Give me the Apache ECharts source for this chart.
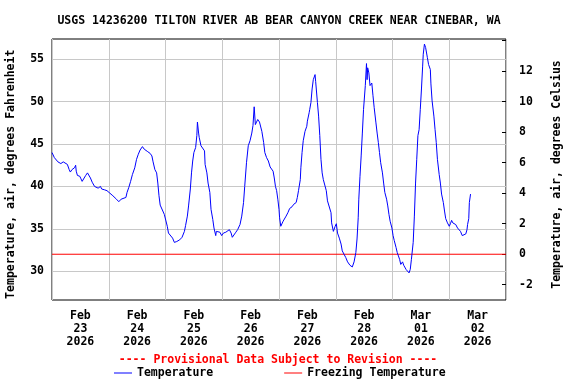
<!DOCTYPE html>
<html>
<head>
<meta charset="utf-8">
<script src="https://cdn.jsdelivr.net/npm/echarts@6/dist/echarts.min.js"></script>
<style>
html,body{margin:0;padding:0;background:#fff;}
#chart{width:576px;height:384px;}
</style>
</head>
<body>
<div id="chart"></div>
<script>
// Hours since Feb 23 2026 00:00
const hours = [0,1,2.5,3.75,4.75,5.5,6.5,7.25,7.75,8.5,9.5,10,10.25,10.75,11.75,12.25,12.75,13.5,14.25,15,15.5,16.25,17,18,18.75,19.5,20.5,21,22.25,23.25,24.5,25.75,27.25,28.25,29.25,30,31.25,31.75,32.5,33.25,34,35,35.75,36.5,37.25,38.25,39,39.5,40.5,41.5,42.25,42.75,43.5,44.25,44.75,45.25,45.75,46.5,47.5,48,48.75,49.25,50,51,51.75,52.75,53.5,54,55,56,56.5,57.25,57.75,58.5,59,59.5,60,60.75,61.25,61.5,62,62.25,63,63.75,64.5,64.75,65.5,66,66.75,67.25,68,68.5,69.25,69.5,70.25,71,71.75,72.5,73.5,74.25,75,75.75,76.25,77,77.75,78.5,79.5,80.25,81,81.5,82.25,83,83.75,84.5,85,85.5,86,86.5,87,87.75,88.25,88.75,89.5,90,90.75,91.5,92.25,93,93.5,94,94.5,95,95.5,96,96.25,96.75,97.25,97.75,98.25,99,99.75,100.5,101.5,102.25,103.25,103.75,104.25,105,105.25,105.75,106.25,107,107.75,108,108.75,109,109.5,110,110.5,111.25,111.5,112.25,112.75,113.25,113.75,114.25,114.75,115.25,116,116.5,117,118,118.25,119,119.75,120.25,120.75,121.5,122.25,122.75,123.5,124.25,125,126,127,127.75,128.5,129,129.5,129.75,130.25,130.75,131.25,131.75,132.5,133,133.25,133.5,134,134.5,135.25,135.75,136.25,137,137.5,138,138.5,139,139.75,140.25,140.75,141.5,142,142.5,143,143.75,144.25,144.75,145.5,146,146.5,147,147.5,148.25,148.75,149.25,149.75,150.5,151,151.5,152,152.75,153.25,153.75,154.25,154.75,155.25,155.75,156.25,156.75,157,157.5,158,158.25,158.75,159.25,160,160.25,160.75,161.5,162,162.5,163,163.75,164.25,164.75,165.5,166,166.5,167.25,168,168.5,169,169.5,170,170.75,171.5,172,172.75,173.5,174,174.25,175,175.5,175.75,176.25,176.5,177];
const tempF = [44.0,43.4,42.9,42.7,42.9,43.0,42.6,42.0,41.7,42.0,42.2,42.5,41.8,41.3,41.2,40.9,40.6,40.8,41.3,41.6,41.4,41.0,40.5,40.0,39.8,39.8,40.0,39.7,39.6,39.5,39.2,38.9,38.5,38.2,38.5,38.7,38.7,39.3,39.9,40.6,41.4,42.2,43.2,43.8,44.3,44.7,44.4,44.5,44.1,43.9,43.6,42.9,42.0,41.6,40.4,38.9,37.8,37.7,36.7,36.5,35.3,34.5,34.7,33.9,33.4,33.5,33.4,33.7,34.0,34.7,35.4,36.5,37.7,39.7,41.6,43.0,44.0,44.6,46.0,47.6,46.3,45.8,44.8,44.9,44.2,42.6,41.6,40.4,39.3,37.3,36.1,35.1,34.2,34.7,34.5,34.6,34.2,34.5,34.6,34.7,34.9,34.5,34.0,34.2,34.6,34.9,35.5,36.5,38.1,40.0,42.8,44.8,45.4,46.3,47.2,49.4,47.3,47.6,47.9,47.6,47.6,46.5,45.2,44.0,43.4,43.0,42.3,42.1,41.8,41.0,40.0,39.5,38.5,37.3,36.3,35.3,35.5,35.9,35.7,36.5,36.9,37.4,37.6,37.9,38.1,38.7,39.5,40.8,42.2,44.0,45.4,46.5,47.1,47.7,48.7,49.1,49.9,51.5,52.6,53.2,52.4,49.9,48.3,46.0,43.2,41.6,40.8,40.6,39.5,38.3,38.1,36.9,35.7,34.7,35.3,35.6,34.5,33.9,33.2,32.4,32.2,31.6,31.1,30.7,30.5,31.1,32.2,33.8,36.3,38.5,41.2,43.6,46.3,49.1,51.9,54.5,52.6,54.0,53.4,51.9,52.2,50.7,49.3,47.5,46.3,45.2,44.0,42.8,41.6,40.4,39.3,38.5,37.7,36.7,35.9,35.1,34.2,33.6,32.8,32.2,31.8,31.4,30.8,31.1,30.7,30.6,30.2,30.0,29.8,30.2,31.4,33.4,36.5,40.4,43.2,46.0,46.7,49.1,51.5,54.2,55.6,56.8,56.4,56.2,55.2,54.4,53.8,52.1,50.1,48.3,46.7,45.2,43.2,41.4,40.4,39.1,38.1,37.1,36.2,35.7,35.3,35.6,36.0,35.7,35.6,35.5,35.1,35.0,34.7,34.2,34.4,34.15,34.4,34.9,35.5,36.2,38.1,39.1];
const dayMonths = ['Feb','Feb','Feb','Feb','Feb','Feb','Mar','Mar'];
const dayNums = ['23','24','25','26','27','28','01','02'];
const dayYears = ['2026','2026','2026','2026','2026','2026','2026','2026'];
const dayLabelHours = [12, 36, 60, 84, 108, 132, 156, 180];   // noon of each day
const freezingF = 32;
const rangeHours = [0, 192];
const rangeF = [26.6, 57.4];      // full plot extent, deg F
const tickRangeF = [30, 55];      // labelled F ticks
const tickRangeC = [-2, 12];      // labelled C ticks

const FONT = 'DejaVu Sans Mono';
const fs = 11.5;
const txt = {fontFamily: FONT, fontSize: fs, fontWeight: 'bold', color: '#000'};

// plot geometry
const G = {left: 52, right: 70, top: 39, bottom: 84};
const H = 384 - G.top - G.bottom;
function yOfF(f) { return G.top + (rangeF[1] - f) * H / (rangeF[1] - rangeF[0]); }
function fToC(f) { return (f - 32) / 1.8; }

const chart = echarts.init(document.getElementById('chart'), null, {renderer: 'canvas'});
const option = {
  animation: false,
  backgroundColor: '#fff',
  title: [
    {text: 'USGS 14236200 TILTON RIVER AB BEAR CANYON CREEK NEAR CINEBAR, WA', left: 279, top: 15, textAlign: 'center', padding: 0,
     textStyle: {fontFamily: FONT, fontSize: fs, fontWeight: 'bold', color: '#000'}},
    {text: '---- Provisional Data Subject to Revision ----', left: 278, top: 354, textAlign: 'center', padding: 0,
     textStyle: {fontFamily: FONT, fontSize: fs, fontWeight: 'bold', color: '#ff0000'}}
  ],
  legend: {
    data: ['Temperature', 'Freezing Temperature'],
    left: 114, top: 367, padding: 0,
    icon: 'rect', itemWidth: 18, itemHeight: 1, itemGap: 71,
    textStyle: Object.assign({}, txt, {padding: [0,0,0,0]}),
    selectedMode: false
  },
  grid: [
    {left: G.left, right: G.right, top: G.top, bottom: G.bottom, show: true, borderColor: '#000', borderWidth: 1,
     backgroundColor: 'transparent', outerBoundsMode: 'none'},
    {left: G.left, right: G.right, top: yOfF(tickRangeF[1]), bottom: 384 - yOfF(tickRangeF[0]), show: false, outerBoundsMode: 'none'}
  ],
  xAxis: [
    {gridIndex: 0, type: 'value', min: rangeHours[0], max: rangeHours[1], interval: 24,
     axisLine: {show: false}, axisTick: {show: false},
     splitLine: {show: true, lineStyle: {color: '#c8c8c8', width: 1}},
     axisLabel: Object.assign({}, txt, {margin: 10, lineHeight: 13, hideOverlap: false,
       customValues: dayLabelHours,
       formatter: function (v) {
         const i = dayLabelHours.indexOf(v);
         if (i < 0) return '';
         return dayMonths[i] + '\n' + dayNums[i] + '\n' + dayYears[i];
       }})},
    {gridIndex: 1, type: 'value', min: 0, max: 1, show: false}
  ],
  yAxis: [
    {gridIndex: 0, type: 'value', min: rangeF[0], max: rangeF[1], show: false},
    {gridIndex: 1, type: 'value', min: tickRangeF[0], max: tickRangeF[1], interval: 5, position: 'left',
     name: 'Temperature, air, degrees Fahrenheit', nameLocation: 'middle', nameGap: 35,
     nameTextStyle: Object.assign({}, txt, {padding: [0, 18, 0, 0]}),
     axisLine: {show: false}, axisTick: {show: false},
     axisLabel: Object.assign({}, txt, {margin: 8}),
     splitLine: {show: true, lineStyle: {color: '#c8c8c8', width: 1}}},
    {gridIndex: 0, type: 'value', min: fToC(rangeF[0]), max: fToC(rangeF[1]), minInterval: 2, maxInterval: 2, position: 'right',
     name: 'Temperature, air, degrees Celsius', nameLocation: 'middle', nameGap: 45,
     nameTextStyle: Object.assign({}, txt, {padding: [0, 10, 0, 0]}),
     axisLine: {show: false}, axisTick: {show: true, inside: true, length: 4, lineStyle: {color: '#000'}},
     axisLabel: Object.assign({}, txt, {margin: 13, showMinLabel: false, showMaxLabel: false,
       formatter: function (v) {
         return (v >= tickRangeC[0] && v <= tickRangeC[1] && Math.abs(v - Math.round(v)) < 1e-6) ? String(Math.round(v)) : '';
       }}),
     splitLine: {show: false}}
  ],
  series: [
    {name: 'Temperature', type: 'line', xAxisIndex: 0, yAxisIndex: 0, symbol: 'none', z: 3,
     lineStyle: {color: '#0000ff', width: 1}, itemStyle: {color: '#0000ff'},
     data: hours.map(function (h, i) { return [h, tempF[i]]; })},
    {name: 'Freezing Temperature', type: 'line', xAxisIndex: 0, yAxisIndex: 0, symbol: 'none', z: 2,
     lineStyle: {color: '#ff0000', width: 1}, itemStyle: {color: '#ff0000'},
     data: [[rangeHours[0], freezingF], [rangeHours[1], freezingF]]}
  ]
};
chart.setOption(option);
</script>
</body>
</html>
